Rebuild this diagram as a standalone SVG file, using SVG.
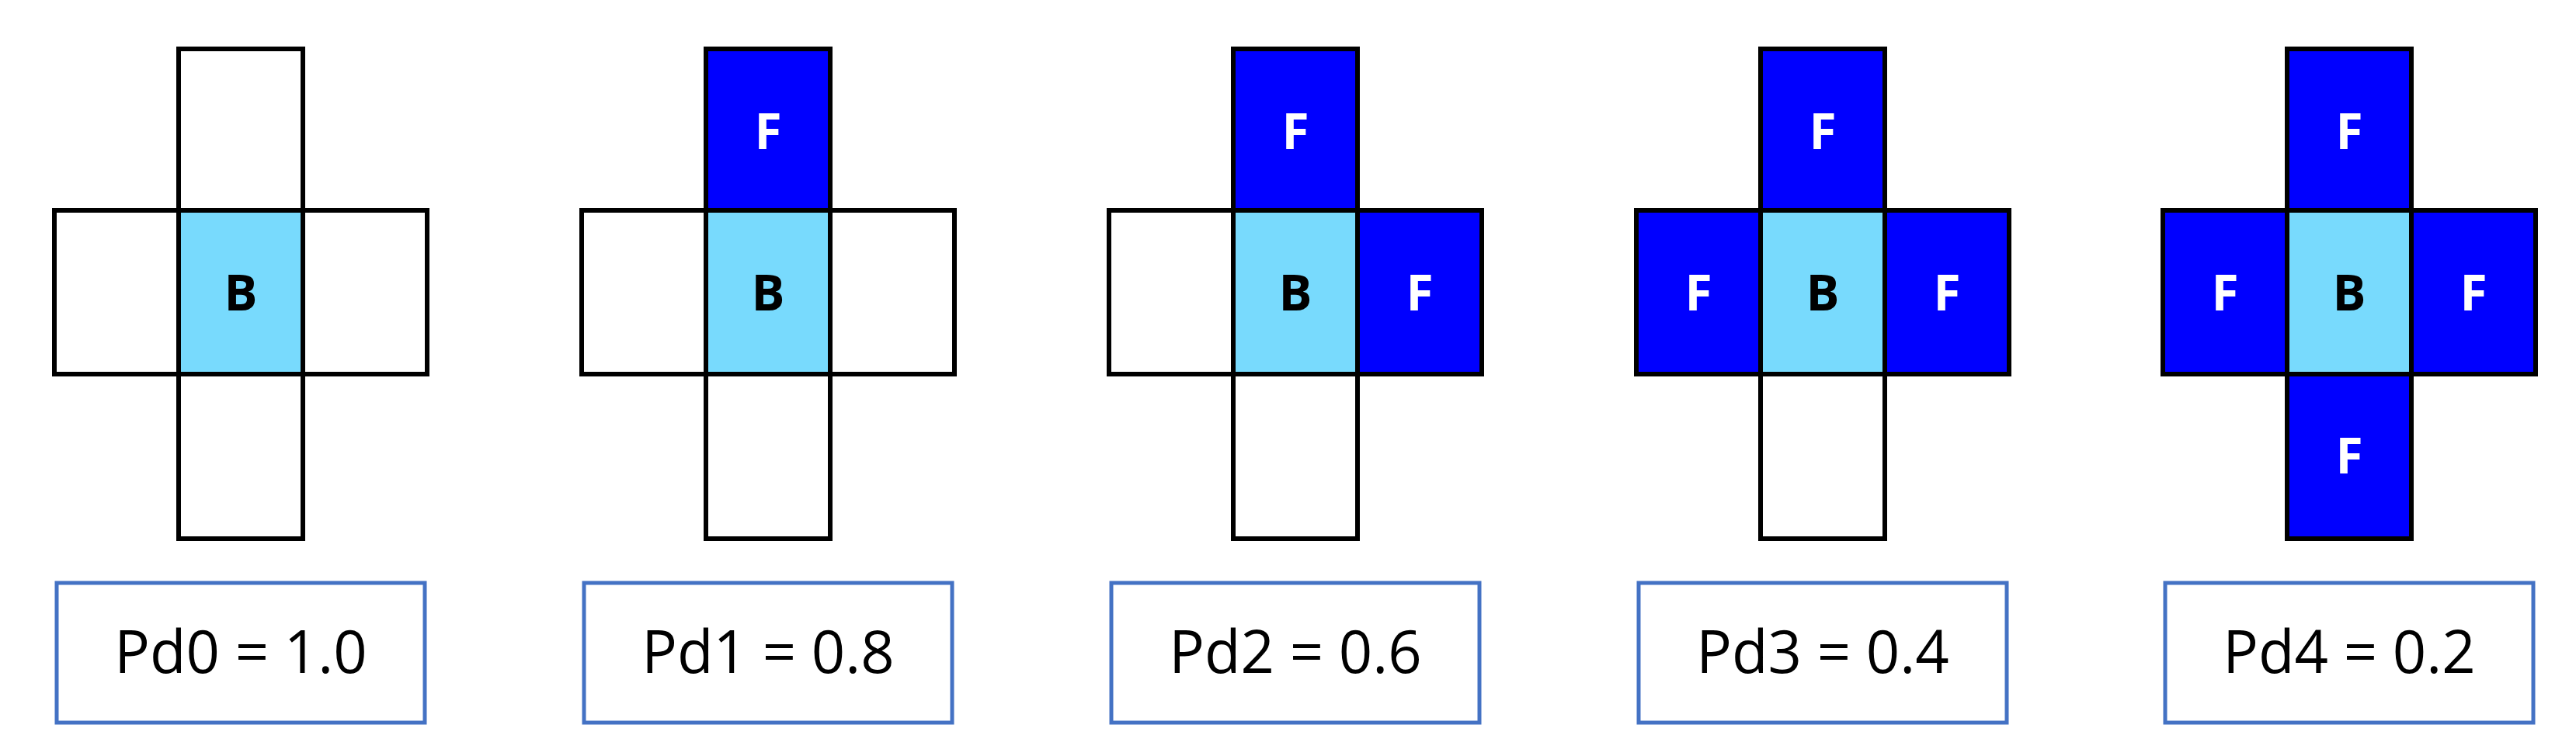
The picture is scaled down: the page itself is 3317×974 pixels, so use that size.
<svg xmlns="http://www.w3.org/2000/svg" width="3317" height="974" viewBox="0 0 3317 974">
<style>
.c{stroke:#000;stroke-width:6}
.e{fill:#fff}
.f{fill:#0000FF}
.b{fill:#78DAFD}
.t{font-family:"Open Sans","Liberation Sans",sans-serif;font-weight:bold;font-size:64px;text-anchor:middle}
.tw{fill:#fff}
.lb{fill:#fff;stroke:#4472C4;stroke-width:5}
.lt{font-family:"Open Sans","Liberation Sans",sans-serif;font-size:76px;text-anchor:middle}
</style>
<rect width="3317" height="974" fill="#fff"/>
<g id="d0" transform="translate(310,0)">
<rect class="c e" x="-80" y="63" width="160" height="208"/>
<rect class="c e" x="-240" y="271" width="160" height="211"/>
<rect class="c e" x="80" y="271" width="160" height="211"/>
<rect class="c e" x="-80" y="482" width="160" height="212"/>
<rect class="c b" x="-80" y="271" width="160" height="211"/>
<text class="t" x="0" y="400">B</text>
<rect class="lb" x="-237" y="751" width="474" height="180"/>
<text class="lt" x="0" y="867">Pd0 = 1.0</text>
</g>
<g id="d1" transform="translate(989,0)">
<rect class="c f" x="-80" y="63" width="160" height="208"/>
<rect class="c e" x="-240" y="271" width="160" height="211"/>
<rect class="c e" x="80" y="271" width="160" height="211"/>
<rect class="c e" x="-80" y="482" width="160" height="212"/>
<rect class="c b" x="-80" y="271" width="160" height="211"/>
<text class="t tw" x="0" y="192">F</text>
<text class="t" x="0" y="400">B</text>
<rect class="lb" x="-237" y="751" width="474" height="180"/>
<text class="lt" x="0" y="867">Pd1 = 0.8</text>
</g>
<g id="d2" transform="translate(1668,0)">
<rect class="c f" x="-80" y="63" width="160" height="208"/>
<rect class="c e" x="-240" y="271" width="160" height="211"/>
<rect class="c f" x="80" y="271" width="160" height="211"/>
<rect class="c e" x="-80" y="482" width="160" height="212"/>
<rect class="c b" x="-80" y="271" width="160" height="211"/>
<text class="t tw" x="0" y="192">F</text>
<text class="t tw" x="160" y="400">F</text>
<text class="t" x="0" y="400">B</text>
<rect class="lb" x="-237" y="751" width="474" height="180"/>
<text class="lt" x="0" y="867">Pd2 = 0.6</text>
</g>
<g id="d3" transform="translate(2347,0)">
<rect class="c f" x="-80" y="63" width="160" height="208"/>
<rect class="c f" x="-240" y="271" width="160" height="211"/>
<rect class="c f" x="80" y="271" width="160" height="211"/>
<rect class="c e" x="-80" y="482" width="160" height="212"/>
<rect class="c b" x="-80" y="271" width="160" height="211"/>
<text class="t tw" x="0" y="192">F</text>
<text class="t tw" x="-160" y="400">F</text>
<text class="t tw" x="160" y="400">F</text>
<text class="t" x="0" y="400">B</text>
<rect class="lb" x="-237" y="751" width="474" height="180"/>
<text class="lt" x="0" y="867">Pd3 = 0.4</text>
</g>
<g id="d4" transform="translate(3025,0)">
<rect class="c f" x="-80" y="63" width="160" height="208"/>
<rect class="c f" x="-240" y="271" width="160" height="211"/>
<rect class="c f" x="80" y="271" width="160" height="211"/>
<rect class="c f" x="-80" y="482" width="160" height="212"/>
<rect class="c b" x="-80" y="271" width="160" height="211"/>
<text class="t tw" x="0" y="192">F</text>
<text class="t tw" x="-160" y="400">F</text>
<text class="t tw" x="160" y="400">F</text>
<text class="t tw" x="0" y="610">F</text>
<text class="t" x="0" y="400">B</text>
<rect class="lb" x="-237" y="751" width="474" height="180"/>
<text class="lt" x="0" y="867">Pd4 = 0.2</text>
</g>
<g id="connectors"/>
</svg>
